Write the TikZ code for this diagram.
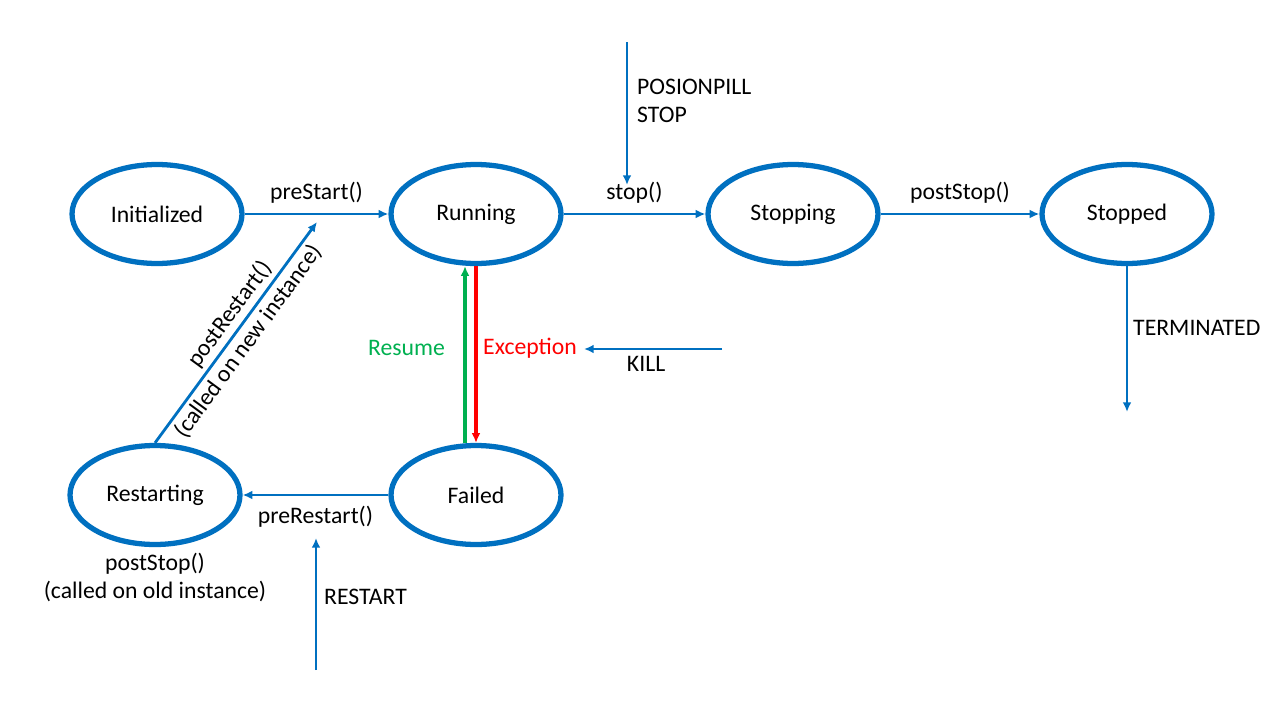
\documentclass[tikz,border=0pt]{standalone}
\usepackage{fontspec}
\setmainfont{Carlito}
\usetikzlibrary{shapes.geometric, arrows.meta, positioning}

\definecolor{officeblue}{RGB}{0,112,192}
\definecolor{resumegreen}{RGB}{0,176,80}
\definecolor{exceptred}{RGB}{255,0,0}

\tikzset{
  state/.style={ellipse, draw=officeblue, line width=3pt, fill=white,
    minimum width=3.4cm, minimum height=1.98cm, inner sep=0pt},
  trans/.style={->, line width=1.6pt, draw=officeblue},
  lbl/.style={font=\fontsize{13.5pt}{16pt}\selectfont}
}

\begin{document}
\begin{tikzpicture}[x=0.02cm, y=-0.02cm, >={Latex[length=5.5pt,width=5pt]},
  every node/.style={lbl}]

\useasboundingbox (0,0) rectangle (1280,720);

%%%%%%%%%%%% States
\node[state] (init)     at (157,214) {Initialized};
\node[state] (run)      at (476,214) {Running};
\node[state] (stopping) at (793,214) {Stopping};
\node[state] (stopped)  at (1127,214) {Stopped};
\node[state] (restart)  at (155,495) {Restarting};
\node[state] (failed)   at (476,495) {Failed};

%%%%%%%%%%%% Free ends
\coordinate (pillin)  at (627,42);
\coordinate (pillend) at (627,185);
\coordinate (termend) at (1127,412);
\coordinate (killin)  at (722,349);
\coordinate (killend) at (584,349);
\coordinate (rsin)    at (316,670);
\coordinate (rsend)   at (316,538);
\coordinate (prend)   at (317,222);

%%%%%%%%%%%% Top row
\draw[trans] (init) -- node[above=2pt] {preStart()} (run);
\draw[trans] (run) -- node[above=2pt] {stop()} (stopping);
\draw[trans] (stopping) -- node[above=2pt] {postStop()} (stopped);

\draw[trans] (pillin) -- (pillend);
\node[anchor=west, align=left] (pill) at (631,101) {POSIONPILL\\STOP};

\draw[trans] (stopped.south) -- (termend);
\node[anchor=west] (term) at (1127,328) {TERMINATED};

%%%%%%%%%%%% Running <-> Failed
\draw[->, line width=1.8pt, draw=resumegreen]
  ([xshift=-0.22cm]failed.north) -- ([xshift=-0.22cm]run.south);
\draw[->, line width=1.8pt, draw=exceptred] (run.south) -- (failed.north);
\node[anchor=east, text=resumegreen] (resume) at (451,348) {Resume};
\node[anchor=west, text=exceptred] (exc) at (477,348) {Exception};

\draw[trans] (killin) -- node[below, pos=0.55] {KILL} (killend);

%%%%%%%%%%%% Restart cycle
\draw[trans] (failed) -- node[below=2pt] {preRestart()} (restart);
\draw[trans] (rsin) -- (rsend);
\node[anchor=west] (rslbl) at (318,597) {RESTART};

\node[below=0pt of restart, align=center] (oldinst)
  {postStop()\\(called on old instance)};

\draw[trans] (restart.north) --
  node[sloped, above, inner sep=2pt, pos=0.54] {postRestart()}
  node[sloped, below, inner sep=2pt, pos=0.5] {(called on new instance)} (prend);

\end{tikzpicture}
\end{document}
